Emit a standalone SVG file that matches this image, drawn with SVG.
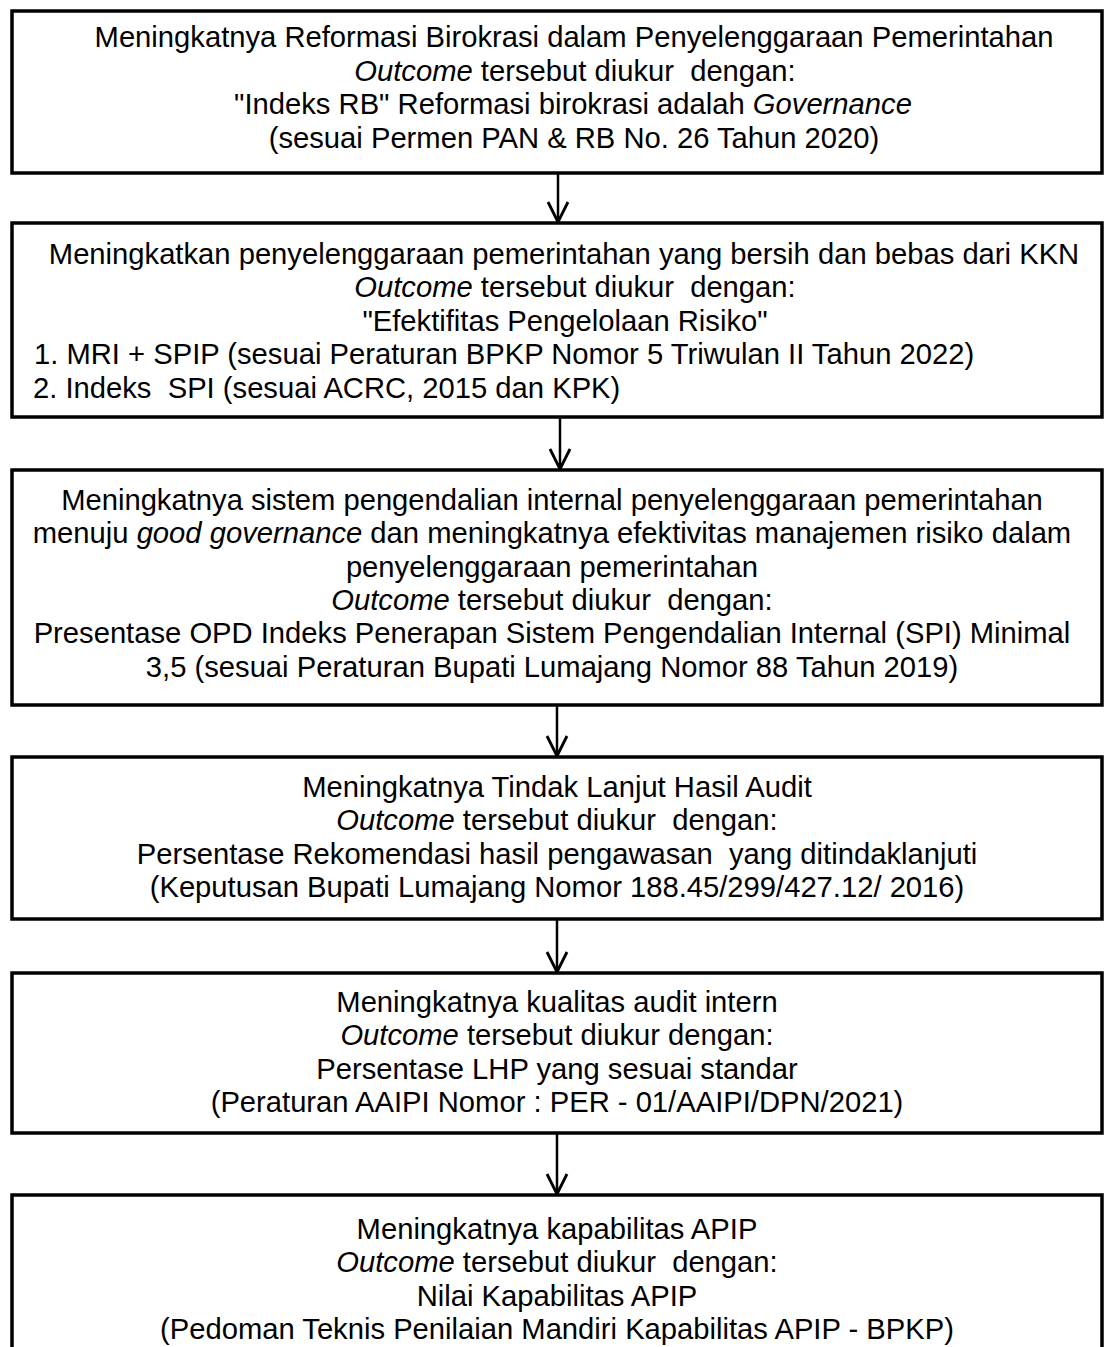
<svg xmlns="http://www.w3.org/2000/svg" width="1104" height="1347" viewBox="0 0 1104 1347">
<style>
.box{fill:#fff;stroke:#000;stroke-width:3.5}
text{font-family:"Liberation Sans",Arial,sans-serif;font-size:29.2px;fill:#000;text-anchor:middle;white-space:pre}
.l{text-anchor:start}
.i{font-style:italic}
.c{stroke:#000;stroke-width:2.5;fill:none}
</style>
<defs>
<marker id="ah" markerWidth="26" markerHeight="26" refX="22" refY="12" orient="auto" markerUnits="userSpaceOnUse" viewBox="0 0 26 24" overflow="visible">
<path d="M2,2 L22,12 L2,22" fill="none" stroke="#000" stroke-width="2.8"/>
</marker>
</defs>
<rect width="1104" height="1347" fill="#fff"/>
<g id="connectors">
<line class="c" x1="558" y1="173" x2="558" y2="222" marker-end="url(#ah)"/>
<line class="c" x1="560" y1="417" x2="560" y2="469" marker-end="url(#ah)"/>
<line class="c" x1="557" y1="705" x2="557" y2="756" marker-end="url(#ah)"/>
<line class="c" x1="557" y1="919" x2="557" y2="972" marker-end="url(#ah)"/>
<line class="c" x1="557" y1="1133" x2="557" y2="1194" marker-end="url(#ah)"/>
</g>
<g id="node1">
<rect class="box" x="12" y="11" width="1090" height="162"/>
<text x="574" y="47">Meningkatnya Reformasi Birokrasi dalam Penyelenggaraan Pemerintahan</text>
<text x="575" y="81"><tspan class="i">Outcome</tspan> tersebut diukur  dengan:</text>
<text x="573" y="114">"Indeks RB" Reformasi birokrasi adalah <tspan class="i">Governance</tspan></text>
<text x="574" y="148">(sesuai Permen PAN &amp; RB No. 26 Tahun 2020)</text>
</g>
<g id="node2">
<rect class="box" x="12" y="223" width="1090" height="194"/>
<text x="564" y="264">Meningkatkan penyelenggaraan pemerintahan yang bersih dan bebas dari KKN</text>
<text x="575" y="297"><tspan class="i">Outcome</tspan> tersebut diukur  dengan:</text>
<text x="565" y="331">"Efektifitas Pengelolaan Risiko"</text>
<text class="l" x="34" y="364">1. MRI + SPIP (sesuai Peraturan BPKP Nomor 5 Triwulan II Tahun 2022)</text>
<text class="l" x="33" y="398">2. Indeks  SPI (sesuai ACRC, 2015 dan KPK)</text>
</g>
<g id="node3">
<rect class="box" x="12" y="470" width="1090" height="235"/>
<text x="552" y="510">Meningkatnya sistem pengendalian internal penyelenggaraan pemerintahan</text>
<text x="552" y="543">menuju <tspan class="i">good governance</tspan> dan meningkatnya efektivitas manajemen risiko dalam</text>
<text x="552" y="577">penyelenggaraan pemerintahan</text>
<text x="552" y="610"><tspan class="i">Outcome</tspan> tersebut diukur  dengan:</text>
<text x="552" y="643">Presentase OPD Indeks Penerapan Sistem Pengendalian Internal (SPI) Minimal</text>
<text x="552" y="677">3,5 (sesuai Peraturan Bupati Lumajang Nomor 88 Tahun 2019)</text>
</g>
<g id="node4">
<rect class="box" x="12" y="757" width="1090" height="162"/>
<text x="557" y="797">Meningkatnya Tindak Lanjut Hasil Audit</text>
<text x="557" y="830"><tspan class="i">Outcome</tspan> tersebut diukur  dengan:</text>
<text x="557" y="864">Persentase Rekomendasi hasil pengawasan  yang ditindaklanjuti</text>
<text x="557" y="897">(Keputusan Bupati Lumajang Nomor 188.45/299/427.12/ 2016)</text>
</g>
<g id="node5">
<rect class="box" x="12" y="973" width="1090" height="160"/>
<text x="557" y="1012">Meningkatnya kualitas audit intern</text>
<text x="557" y="1045"><tspan class="i">Outcome</tspan> tersebut diukur dengan:</text>
<text x="557" y="1079">Persentase LHP yang sesuai standar</text>
<text x="557" y="1112">(Peraturan AAIPI Nomor : PER - 01/AAIPI/DPN/2021)</text>
</g>
<g id="node6">
<rect class="box" x="12" y="1195" width="1090" height="170"/>
<text x="557" y="1239">Meningkatnya kapabilitas APIP</text>
<text x="557" y="1272"><tspan class="i">Outcome</tspan> tersebut diukur  dengan:</text>
<text x="557" y="1306">Nilai Kapabilitas APIP</text>
<text x="557" y="1339">(Pedoman Teknis Penilaian Mandiri Kapabilitas APIP - BPKP)</text>
</g>
</svg>
